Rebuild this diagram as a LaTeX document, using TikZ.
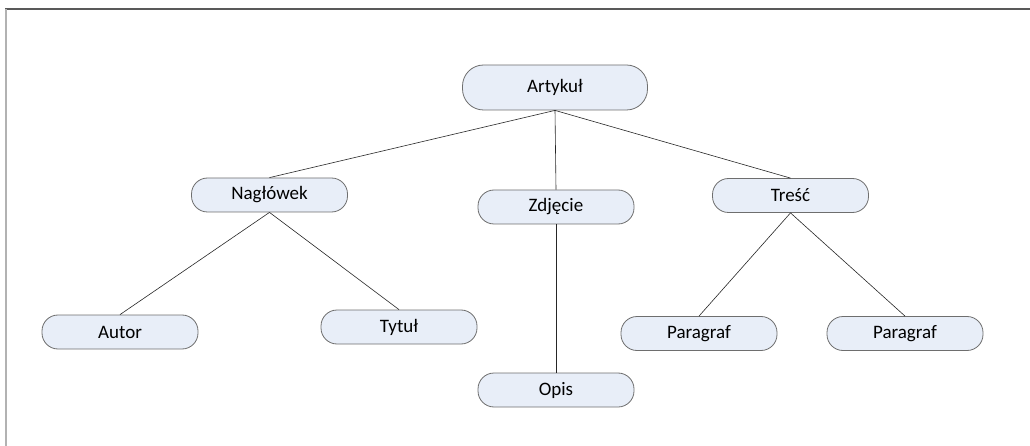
\documentclass[tikz,border=0pt]{standalone}
\usepackage{fontspec}
\setmainfont{Carlito}
\begin{document}
\begin{tikzpicture}[x=1pt,y=-1pt,
  box/.style={draw=boxline, fill=boxfill, line width=0.8pt, rounded corners=16pt,
    minimum width=156pt, minimum height=34pt, inner sep=0pt, font=\fontsize{19}{22}\selectfont},
  bigbox/.style={box, minimum width=185pt, minimum height=45pt, rounded corners=21pt},
  link/.style={draw=black!85, line width=0.6pt}]
\definecolor{boxfill}{RGB}{232,238,248}
\definecolor{boxline}{RGB}{110,110,110}
\useasboundingbox (0,0) rectangle (1030,446);
% page frame
\draw[line width=1.5pt, color=black!65] (5,9) -- (1030,9);
\draw[line width=2pt, color=black!30] (5.5,9) -- (5.5,446);
% tree nodes
\node[bigbox] (art) at (555,87.5) {Artykuł};
\node[box] (nag) at (269.5,195) {Nagłówek};
\node[box] (zdj) at (556,207) {Zdjęcie};
\node[box] (tre) at (790.5,195.5) {Treść};
\node[box] (aut) at (120,332) {Autor};
\node[box] (tyt) at (399,327) {Tytuł};
\node[box] (opi) at (556,390) {Opis};
\node[box] (par1) at (699,333.5) {Paragraf};
\node[box] (par2) at (905,333.5) {Paragraf};
% connectors
\draw[link] (art.south) -- (nag.north);
\draw[link] (art.south) -- (zdj.north);
\draw[link] (art.south) -- (tre.north);
\draw[link] (nag.south) -- (aut.north);
\draw[link] (nag.south) -- (tyt.north);
\draw[link] (zdj.south) -- (opi.north);
\draw[link] (tre.south) -- (par1.north);
\draw[link] (tre.south) -- (par2.north);
\end{tikzpicture}
\end{document}
